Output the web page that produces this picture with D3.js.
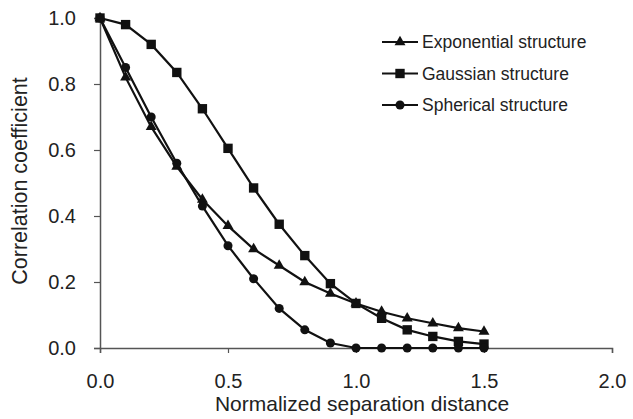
<!DOCTYPE html>
<html>
<head>
<meta charset="utf-8">
<script src="https://cdn.jsdelivr.net/npm/d3@7"></script>
<style>
  html, body { margin: 0; padding: 0; background: #fff; }
  svg { display: block; font-family: "Liberation Sans", Arial, sans-serif; }
</style>
</head>
<body>
<svg id="chart" width="633" height="419"></svg>
<script>
// Normalized separation distance (x) and correlation for each structure
const distances = [0, 0.1, 0.2, 0.3, 0.4, 0.5, 0.6, 0.7, 0.8, 0.9, 1.0, 1.1, 1.2, 1.3, 1.4, 1.5];
const exponential = [1.0, 0.82, 0.67, 0.55, 0.45, 0.37, 0.30, 0.25, 0.20, 0.165, 0.135, 0.11, 0.09, 0.075, 0.06, 0.05];
const gaussian = [1.0, 0.98, 0.92, 0.835, 0.725, 0.605, 0.485, 0.375, 0.28, 0.195, 0.135, 0.09, 0.055, 0.035, 0.02, 0.012];
const spherical = [1.0, 0.85, 0.70, 0.56, 0.43, 0.31, 0.21, 0.12, 0.055, 0.015, 0, 0, 0, 0, 0, 0];
const seriesNames = ["Exponential structure", "Gaussian structure", "Spherical structure"];
const markerTypes = ["triangle", "square", "circle"];
const xTicks = [0, 0.5, 1.0, 1.5, 2.0];
const yTicks = [0, 0.2, 0.4, 0.6, 0.8, 1.0];

const svg = d3.select("#chart");
const ink = "#111";
const axisColor = "#555";
const textColor = "#222";

const x = d3.scaleLinear().domain([0, 2]).range([100, 612]);
const y = d3.scaleLinear().domain([0, 1]).range([348, 18]);

// Axes
const xAxis = svg.append("g").attr("transform", `translate(0,${y(0)})`)
  .call(d3.axisBottom(x).tickValues(xTicks).tickFormat(d3.format(".1f")).tickSize(5).tickPadding(21));
const yAxis = svg.append("g").attr("transform", `translate(${x(0)},0)`)
  .call(d3.axisLeft(y).tickValues(yTicks).tickFormat(d3.format(".1f")).tickSize(6).tickPadding(18));
[xAxis, yAxis].forEach(g => {
  g.select(".domain").attr("stroke", axisColor).attr("stroke-width", 1.5);
  g.selectAll(".tick line").attr("stroke", axisColor).attr("stroke-width", 1.2);
  g.selectAll(".tick text").attr("fill", textColor).style("font-size", "20px")
    .style("font-family", "'Liberation Sans', Arial, sans-serif");
});

// Axis titles
svg.append("text").attr("x", 362).attr("y", 411).attr("text-anchor", "middle")
  .attr("fill", textColor).style("font-size", "21px").text("Normalized separation distance");
svg.append("text").attr("transform", `translate(27,${y(0.5) - 2}) rotate(-90)`)
  .attr("text-anchor", "middle").attr("fill", textColor).style("font-size", "21.5px")
  .text("Correlation coefficient");

const symbolFor = {
  triangle: d3.symbol().type(d3.symbolTriangle).size(52),
  square: d3.symbol().type(d3.symbolSquare).size(88),
  circle: d3.symbol().type(d3.symbolCircle).size(64)
};

const allSeries = [exponential, gaussian, spherical];
const line = d3.line().x((d, i) => x(distances[i])).y(d => y(d));

allSeries.forEach((vals, k) => {
  const g = svg.append("g");
  g.append("path").datum(vals).attr("d", line)
    .attr("fill", "none").attr("stroke", ink).attr("stroke-width", 2.2);
  g.selectAll("path.m").data(vals).join("path").attr("class", "m")
    .attr("transform", (d, i) => `translate(${x(distances[i])},${y(d)})`)
    .attr("d", symbolFor[markerTypes[k]]).attr("fill", ink);
});

// Legend
const legend = svg.append("g");
seriesNames.forEach((name, k) => {
  const ly = 42 + k * 31.5;
  legend.append("line").attr("x1", 382).attr("x2", 418).attr("y1", ly).attr("y2", ly)
    .attr("stroke", ink).attr("stroke-width", 2.2);
  legend.append("path").attr("transform", `translate(400,${ly})`)
    .attr("d", symbolFor[markerTypes[k]]).attr("fill", ink);
  legend.append("text").attr("x", 422).attr("y", ly + 6).attr("fill", textColor)
    .style("font-size", "17.5px").text(name);
});
</script>
</body>
</html>
